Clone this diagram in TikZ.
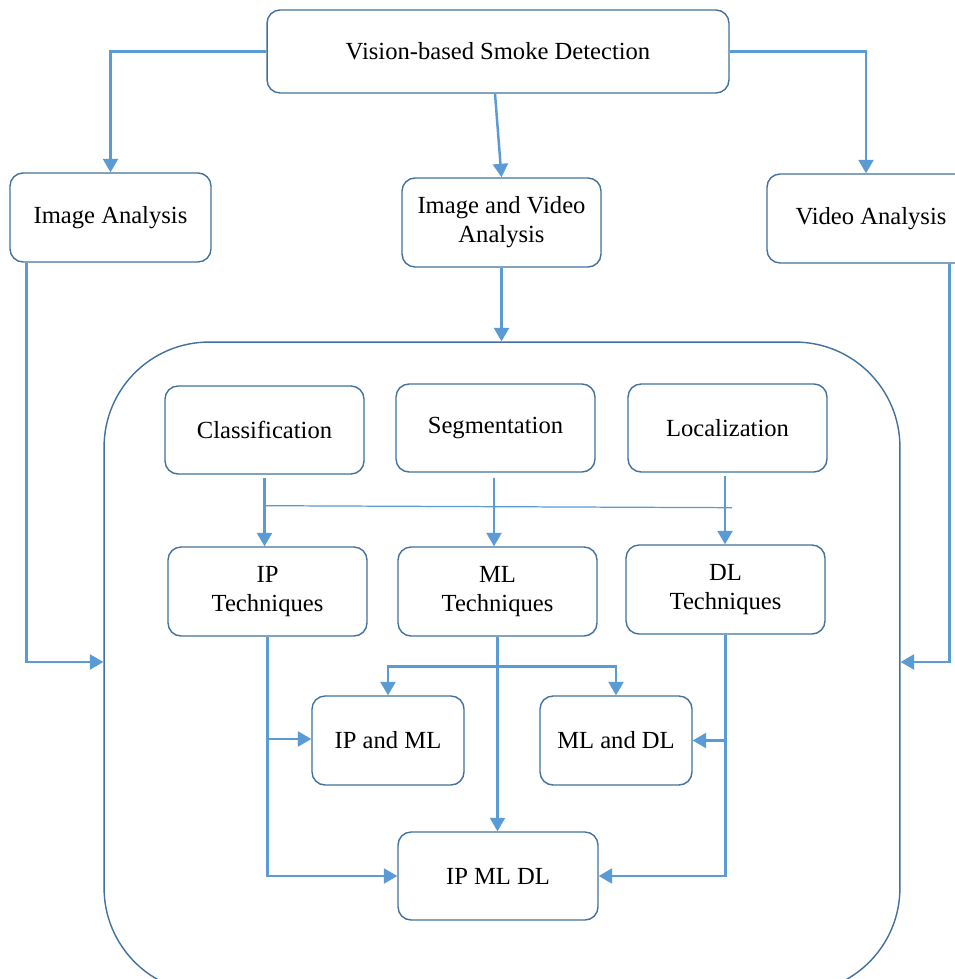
\documentclass[tikz,border=0pt]{standalone}
\usepackage{fontspec}
\setmainfont{Liberation Serif}
\usetikzlibrary{arrows.meta,calc}
\definecolor{lineblue}{RGB}{91,155,213}
\definecolor{boxblue}{RGB}{65,113,156}
\tikzset{
  box/.style={draw=boxblue, line width=0.8pt, rounded corners=0.26cm, minimum width=4cm, minimum height=1.78cm, align=center, inner sep=0pt, font=\fontsize{14}{16.5}\selectfont},
  conn/.style={draw=lineblue, line width=1.4pt},
  arr/.style={conn, -{Triangle[length=0.27cm,width=0.3cm]}},
  thinline/.style={draw=lineblue, line width=0.7pt},
}
\begin{document}
\begin{tikzpicture}[x=0.02cm,y=-0.02cm]
\useasboundingbox (0,0) rectangle (955,979);
\clip (0,0) rectangle (955,979);
\fill[white] (0,0) rectangle (955,979);
% container
\node[draw=boxblue, line width=0.8pt, rounded corners=2.1cm, minimum width=15.92cm, minimum height=13.02cm, inner sep=0pt] (cont) at (502,667.5) {};
% top level
\node[box, minimum width=9.24cm, minimum height=1.66cm] (top) at (498,51.5) {Vision-based Smoke Detection};
\node[box, minimum width=4.02cm] (ia) at (110.5,217.5) {Image Analysis};
\node[box, minimum width=3.98cm] (iva) at (501.5,222.5) {Image and Video\\Analysis};
\node[box, minimum width=4.16cm] (va) at (871,218.5) {Video Analysis};
% inner row 1
\node[box, minimum width=3.98cm, minimum height=1.76cm] (cls) at (264.5,430) {Classification};
\node[box, minimum width=3.98cm, minimum height=1.76cm] (seg) at (495.5,428) {Segmentation};
\node[box, minimum width=3.98cm, minimum height=1.76cm] (loc) at (727.5,428) {Localization};
% inner row 2
\node[box, minimum width=3.98cm] (ipt) at (267.5,591.5) {IP\\Techniques};
\node[box, minimum width=3.98cm] (mlt) at (497.5,591.5) {ML\\Techniques};
\node[box, minimum width=3.98cm] (dlt) at (725.5,589.5) {DL\\Techniques};
% combos
\node[box, minimum width=3.04cm] (ipml) at (388,740.5) {IP and ML};
\node[box, minimum width=3.04cm] (mldl) at (616,740.5) {ML and DL};
\node[box, minimum width=4cm, minimum height=1.76cm] (all) at (498,876) {IP ML DL};
% top connectors
\draw[arr] (top.west) -| (ia.north);
\draw[arr] (top.east) -| ($(va.north)+(-5,0)$);
\draw[arr] ($(top.south)+(-3,0)$) -- (iva.north);
\draw[arr] (iva.south) -- (iva.south |- cont.north);
\coordinate (iaout) at ($(ia.south west)+(17,0)$);
\draw[arr] (iaout) |- ($(cont.west)+(0,-5.5)$);
\coordinate (vaout) at ($(va.south west)+(183,0)$);
\draw[arr] (vaout) |- ($(cont.east)+(0,-5.5)$);
% row1 -> row2
\draw[arr] ($(cls.south)+(0,3)$) -- (cls.south |- ipt.north);
\draw[arr] ($(seg.south)+(-1.5,5)$) -- ($(seg.south |- mlt.north)+(-1.5,0)$);
\draw[arr] ($(loc.south)+(-2.5,3)$) -- ($(loc.south |- dlt.north)+(-2.5,0)$);
\draw[thinline] ($(cls.south)+(0,31)$) -- ($(loc.south)+(4.5,35)$);
% row2 -> combos
\draw[arr] (ipt.south) |- (all.west);
\draw[arr] ($(ipt.south |- ipml.west)+(0,-1.5)$) -- ($(ipml.west)+(0,-1.5)$);
\draw[arr] (mlt.south) -- (mlt.south |- all.north);
\coordinate (mb) at ($(mlt.south)+(0,30)$);
\draw[arr] (mb) -| (ipml.north);
\draw[arr] (mb) -| (mldl.north);
\draw[arr] (dlt.south) |- (all.east);
\draw[arr] (dlt.south |- mldl.east) -- (mldl.east);
\end{tikzpicture}
\end{document}
